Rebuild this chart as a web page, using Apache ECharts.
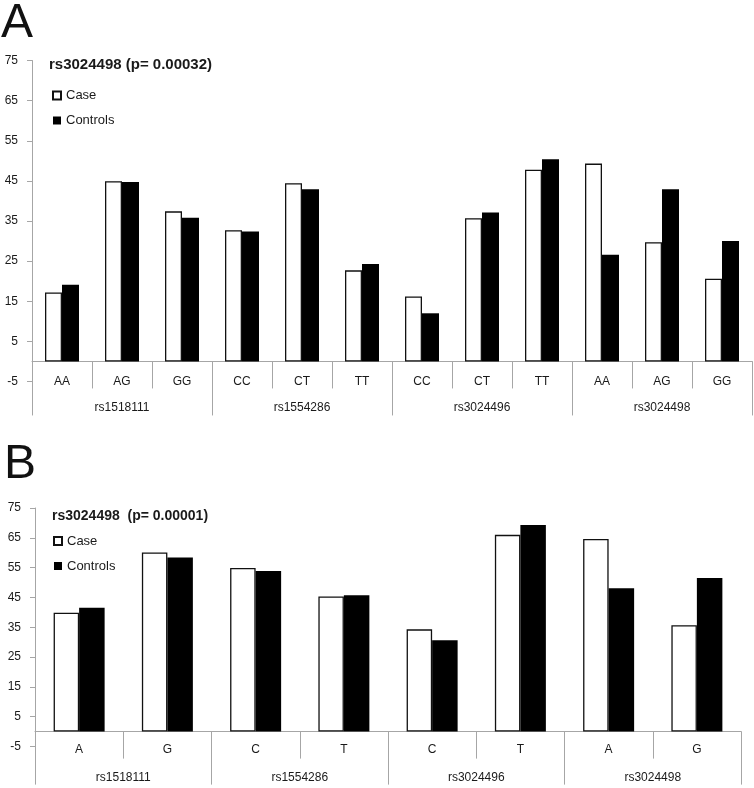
<!DOCTYPE html>
<html>
<head>
<meta charset="utf-8">
<script src="https://cdn.jsdelivr.net/npm/echarts@6/dist/echarts.min.js"></script>
<style>
html,body{margin:0;padding:0;background:#fff;}
#c{width:754px;height:788px;}
</style>
</head>
<body>
<div id="c"></div>
<script>
// ---- data ----
var groups = ['rs1518111', 'rs1554286', 'rs3024496', 'rs3024498'];
var genotypesA = ['AA', 'AG', 'GG', 'CC', 'CT', 'TT', 'CC', 'CT', 'TT', 'AA', 'AG', 'GG'];
var caseA = [17.2, 44.9, 37.4, 32.7, 44.4, 22.7, 16.2, 35.7, 47.8, 49.3, 29.7, 20.6];
var controlsA = [19.1, 44.7, 35.8, 32.4, 42.9, 24.3, 12.0, 37.1, 50.4, 26.6, 42.9, 30.0];
var allelesB = ['A', 'G', 'C', 'T', 'C', 'T', 'A', 'G'];
var caseB = [39.9, 60.1, 54.9, 45.3, 34.3, 66.0, 64.6, 35.7];
var controlsB = [41.5, 58.4, 53.9, 45.7, 30.6, 69.3, 48.1, 51.5];
var titleA = 'rs3024498 (p= 0.00032)';
var titleB = 'rs3024498  (p= 0.00001)';
var yMin = -5, yMax = 75, yStep = 10;

// ---- layout ----
var FONT = '"Liberation Sans", Arial, sans-serif';
var AXIS_GRAY = '#a6a6a6';
var TEXT = '#1a1a1a';
var zeroFrac = yMax / (yMax - yMin);

var gA = {left: 32, top: 60.5, width: 720, height: 321};
var gB = {left: 35, top: 508, width: 706, height: 238.5};

function grids(g) {
  return [
    {left: g.left, top: g.top, width: g.width, height: g.height},
    {left: g.left, top: g.top, width: g.width, height: g.height * zeroFrac}
  ];
}

// main category axis: line on zero + short separators, no labels
function mainX(gridIndex, data) {
  return {
    type: 'category', gridIndex: gridIndex, data: data, position: 'bottom',
    axisLine: {show: true, onZero: true, lineStyle: {color: AXIS_GRAY, width: 1}},
    axisTick: {show: true, interval: 0, length: 27, lineStyle: {color: AXIS_GRAY}},
    axisLabel: {show: false},
    splitLine: {show: false}
  };
}
// label-only axis sitting on the zero line (aux grid)
function labelX(gridIndex, data, margin) {
  return {
    type: 'category', gridIndex: gridIndex, data: data, position: 'bottom',
    axisLine: {show: false, onZero: false},
    axisTick: {show: false},
    axisLabel: {interval: 0, margin: margin, color: TEXT, fontFamily: FONT, fontSize: 12, hideOverlap: false},
    splitLine: {show: false}
  };
}
function groupX(gridIndex, margin, len) {
  return {
    type: 'category', gridIndex: gridIndex, data: groups, position: 'bottom',
    axisLine: {show: false, onZero: false},
    axisTick: {show: true, interval: 0, length: len, lineStyle: {color: AXIS_GRAY}},
    axisLabel: {interval: 0, margin: margin, color: TEXT, fontFamily: FONT, fontSize: 12, hideOverlap: false},
    splitLine: {show: false}
  };
}
function valueY(gridIndex) {
  return {
    type: 'value', gridIndex: gridIndex, min: yMin, max: yMax, interval: yStep,
    axisLine: {show: true, onZero: false, lineStyle: {color: AXIS_GRAY, width: 1}},
    axisTick: {show: true, length: 5, lineStyle: {color: AXIS_GRAY}},
    axisLabel: {margin: 14, color: TEXT, fontFamily: FONT, fontSize: 12},
    splitLine: {show: false}
  };
}
function hiddenY(gridIndex) {
  return {type: 'value', gridIndex: gridIndex, min: 0, max: 1, show: false};
}

var caseStyle = {color: '#ffffff', borderColor: '#111111', borderWidth: 1.3};
var ctrlStyle = {color: '#000000', borderColor: '#000000', borderWidth: 0};

function bar(name, data, xi, yi, style, w) {
  return {
    name: name, type: 'bar', xAxisIndex: xi, yAxisIndex: yi, data: data,
    barWidth: w, barGap: '0%', itemStyle: style, silent: true,
    emphasis: {disabled: true}
  };
}

function legend(left, top) {
  return {
    data: ['Case', 'Controls'], orient: 'vertical', left: left, top: top,
    padding: 0, itemGap: 11, itemWidth: 8, itemHeight: 8, icon: 'rect',
    selectedMode: false,
    textStyle: {fontFamily: FONT, fontSize: 13, color: TEXT, lineHeight: 14}
  };
}

var option = {
  animation: false,
  backgroundColor: '#ffffff',
  title: [
    {text: 'A', left: 1, top: 0, padding: 0, textStyle: {fontFamily: FONT, fontSize: 48, fontWeight: 'normal', color: '#111'}},
    {text: 'B', left: 4, top: 441, padding: 0, textStyle: {fontFamily: FONT, fontSize: 48, fontWeight: 'normal', color: '#111'}},
    {text: titleA, left: 49, top: 57, padding: 0, textStyle: {fontFamily: FONT, fontSize: 15, fontWeight: 'bold', color: TEXT}},
    {text: titleB, left: 52, top: 509, padding: 0, textStyle: {fontFamily: FONT, fontSize: 14, fontWeight: 'bold', color: TEXT}}
  ],
  legend: [legend(52, 88.5), legend(53, 534)],
  grid: grids(gA).concat(grids(gB)),
  xAxis: [
    mainX(0, genotypesA), groupX(1, 40, 54),
    mainX(2, allelesB), groupX(3, 40, 53),
    labelX(1, genotypesA, 14), labelX(3, allelesB, 12)
  ],
  yAxis: [valueY(0), hiddenY(1), valueY(2), hiddenY(3)],
  series: [
    bar('Case', caseA, 0, 0, caseStyle, 17),
    bar('Controls', controlsA, 0, 0, ctrlStyle, 17),
    bar('Case', caseB, 2, 2, caseStyle, 25.5),
    bar('Controls', controlsB, 2, 2, ctrlStyle, 25.5)
  ]
};

var chart = echarts.init(document.getElementById('c'), null, {renderer: 'canvas'});
chart.setOption(option);
</script>
</body>
</html>
